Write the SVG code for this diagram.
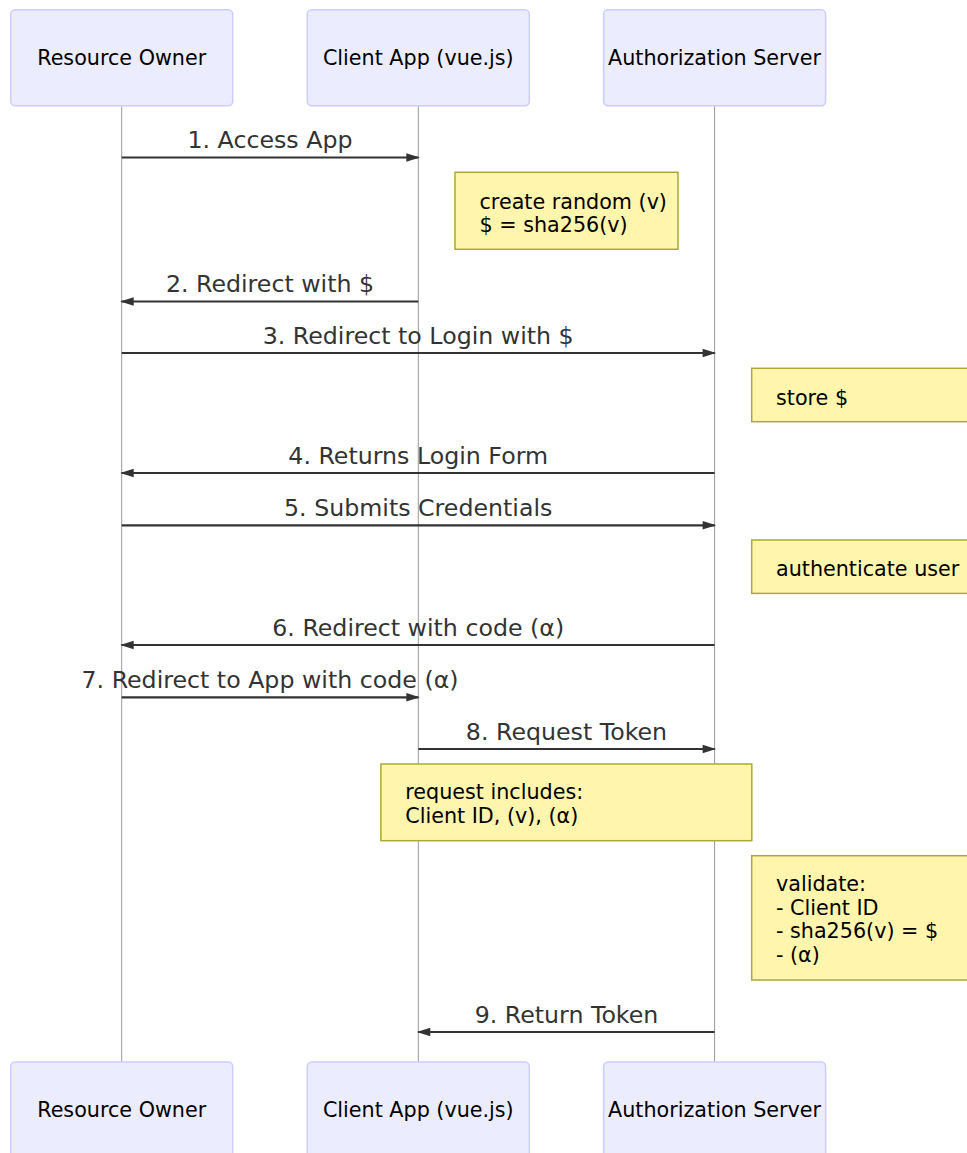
<svg xmlns="http://www.w3.org/2000/svg" width="967" height="1153" viewBox="0 0 967 1153">
  <style>
    .actor { fill: #ECECFF; stroke: #CCCCFF; stroke-width: 1.5; }
    .actor-text { font-family: "DejaVu Sans", sans-serif; font-size: 20.7px; fill: #000; text-anchor: middle; }
    .lifeline { stroke: #999; stroke-width: 1; }
    .msg { stroke: #333; stroke-width: 2.2; fill: none; marker-end: url(#arrowhead); }
    .msg-text { font-family: "DejaVu Sans", sans-serif; font-size: 23.7px; fill: #333; text-anchor: middle; }
    .note { fill: #FFF5AD; stroke: #AAAA33; stroke-width: 1.5; }
    .note-text { font-family: "DejaVu Sans", sans-serif; font-size: 20.7px; fill: #000; }
  </style>
  <defs>
    <marker id="arrowhead" markerUnits="userSpaceOnUse" viewBox="-13 -5 15 10" refX="0" refY="0" markerWidth="15" markerHeight="10" orient="auto">
      <path d="M -12 -4.2 L 1.5 0 L -12 4.2 z" fill="#333"/>
    </marker>
  </defs>
  <rect width="967" height="1153" fill="#fff"/>

  <!-- lifelines -->
  <g id="lifelines">
    <line class="lifeline" x1="121.7" y1="105.7" x2="121.7" y2="1062"/>
    <line class="lifeline" x1="418.3" y1="105.7" x2="418.3" y2="1062"/>
    <line class="lifeline" x1="714.6" y1="105.7" x2="714.6" y2="1062"/>
  </g>

  <!-- participants, top -->
  <g id="actor-owner-top">
    <rect class="actor" x="10.7" y="9.7" width="222" height="96" rx="4.4"/>
    <text class="actor-text" x="121.7" y="65">Resource Owner</text>
  </g>
  <g id="actor-client-top">
    <rect class="actor" x="307.3" y="9.7" width="222" height="96" rx="4.4"/>
    <text class="actor-text" x="418.3" y="65">Client App (vue.js)</text>
  </g>
  <g id="actor-auth-top">
    <rect class="actor" x="603.6" y="9.7" width="222" height="96" rx="4.4"/>
    <text class="actor-text" x="714.6" y="65">Authorization Server</text>
  </g>

  <!-- participants, bottom -->
  <g id="actor-owner-bottom">
    <rect class="actor" x="10.7" y="1062" width="222" height="96" rx="4.4"/>
    <text class="actor-text" x="121.7" y="1117.3">Resource Owner</text>
  </g>
  <g id="actor-client-bottom">
    <rect class="actor" x="307.3" y="1062" width="222" height="96" rx="4.4"/>
    <text class="actor-text" x="418.3" y="1117.3">Client App (vue.js)</text>
  </g>
  <g id="actor-auth-bottom">
    <rect class="actor" x="603.6" y="1062" width="222" height="96" rx="4.4"/>
    <text class="actor-text" x="714.6" y="1117.3">Authorization Server</text>
  </g>

  <!-- notes -->
  <g id="note-create">
    <rect class="note" x="455" y="172.3" width="223" height="77"/>
    <text class="note-text" x="479.5" y="208.5">create random (v)</text>
    <text class="note-text" x="479.5" y="231.8">$ = sha256(v)</text>
  </g>
  <g id="note-store">
    <rect class="note" x="751.7" y="368.3" width="222" height="53.4"/>
    <text class="note-text" x="776" y="404.5">store $</text>
  </g>
  <g id="note-authenticate">
    <rect class="note" x="751.7" y="540" width="222" height="53.4"/>
    <text class="note-text" x="776" y="576">authenticate user</text>
  </g>
  <g id="note-request">
    <rect class="note" x="380.9" y="764" width="370.9" height="76.7"/>
    <text class="note-text" x="405.3" y="799">request includes:</text>
    <text class="note-text" x="405.3" y="822.5">Client ID, (v), (α)</text>
  </g>
  <g id="note-validate">
    <rect class="note" x="751.7" y="855.7" width="222" height="124.3"/>
    <text class="note-text" x="776" y="891">validate:</text>
    <text class="note-text" x="776" y="914.5">- Client ID</text>
    <text class="note-text" x="776" y="938">- sha256(v) = $</text>
    <text class="note-text" x="776" y="961.5">- (α)</text>
  </g>

  <!-- messages -->
  <g id="messages">
    <line class="msg" x1="121.7" y1="157.5" x2="418.3" y2="157.5"/>
    <text class="msg-text" x="270" y="148">1. Access App</text>

    <line class="msg" x1="418.3" y1="301.5" x2="121.7" y2="301.5"/>
    <text class="msg-text" x="270" y="292">2. Redirect with $</text>

    <line class="msg" x1="121.7" y1="353" x2="714.6" y2="353"/>
    <text class="msg-text" x="418.2" y="343.5">3. Redirect to Login with $</text>

    <line class="msg" x1="714.6" y1="473" x2="121.7" y2="473"/>
    <text class="msg-text" x="418.2" y="463.5">4. Returns Login Form</text>

    <line class="msg" x1="121.7" y1="525.3" x2="714.6" y2="525.3"/>
    <text class="msg-text" x="418.2" y="515.8">5. Submits Credentials</text>

    <line class="msg" x1="714.6" y1="645" x2="121.7" y2="645"/>
    <text class="msg-text" x="418.2" y="635.5">6. Redirect with code (α)</text>

    <line class="msg" x1="121.7" y1="697.3" x2="418.3" y2="697.3"/>
    <text class="msg-text" x="270" y="687.8">7. Redirect to App with code (α)</text>

    <line class="msg" x1="418.3" y1="749" x2="714.6" y2="749"/>
    <text class="msg-text" x="566.5" y="739.5">8. Request Token</text>

    <line class="msg" x1="714.6" y1="1032" x2="418.3" y2="1032"/>
    <text class="msg-text" x="566.5" y="1022.5">9. Return Token</text>
  </g>
</svg>
